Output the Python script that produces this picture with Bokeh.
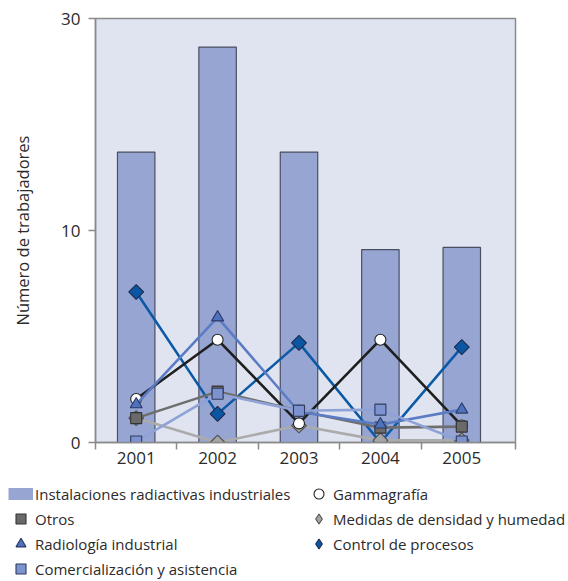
import numpy as np
from bokeh.plotting import figure
from bokeh.layouts import column
from bokeh.models import FixedTicker, Range1d, Legend, LegendItem
from bokeh.embed import file_html
from bokeh.resources import INLINE

# ---- data ----
years = [2001, 2002, 2003, 2004, 2005]
instalaciones = [17.4, 27.3, 17.4, 9.1, 9.2]
control = [7.1, 1.35, 4.7, 0.0, 4.5]
gammagrafia = [2.05, 4.85, 0.9, 4.85, 0.8]
radiologia = [1.8, 5.9, 1.45, 0.85, 1.55]
otros = [1.15, 2.4, 1.5, 0.7, 0.75]
medidas = [1.15, 0.0, 0.8, 0.1, 0.1]
comercializacion = [0.05, 2.3, 1.5, 1.55, 0.05]
y_tick_values = [0, 10, 30]
x_boundaries = [2000.5, 2001.5, 2002.5, 2003.5, 2004.5, 2005.66]

# broken (piecewise-linear) value axis: 0-10 full scale, 10-30 compressed
BREAK = 10
UPPER = 0.5


def to_axis(vals):
    return [v if v <= BREAK else BREAK + (v - BREAK) * UPPER for v in vals]


FONT = "Open Sans"
TXT = "#2b2b2b"
AX = "#8a8a8a"

p = figure(width=568, height=481, output_backend="svg", toolbar_location=None,
           x_range=Range1d(x_boundaries[0], x_boundaries[-1]),
           y_range=Range1d(0, to_axis([y_tick_values[-1]])[0]),
           min_border_left=95, min_border_right=53, min_border_top=18,
           min_border_bottom=39)
p.frame_align = False
p.background_fill_color = "#dfe4f0"
p.border_fill_color = "white"
p.outline_line_color = AX
p.outline_line_width = 1.5
p.xgrid.visible = False
p.ygrid.visible = False

# y axis
yt = to_axis(y_tick_values)
p.yaxis.ticker = FixedTicker(ticks=yt)
p.yaxis.major_label_overrides = {t: str(v) for t, v in zip(yt, y_tick_values)}
p.yaxis.axis_label = "Número de trabajadores"
p.yaxis.axis_label_text_font = FONT
p.yaxis.axis_label_text_font_size = "16.5px"
p.yaxis.axis_label_text_font_style = "normal"
p.yaxis.axis_label_text_color = TXT
p.yaxis.axis_label_standoff = 24
p.yaxis.major_label_text_font = FONT
p.yaxis.major_label_text_font_size = "17px"
p.yaxis.major_label_text_color = TXT
p.yaxis.axis_line_color = AX
p.yaxis.axis_line_width = 1.5
p.yaxis.major_tick_line_color = AX
p.yaxis.major_tick_line_width = 1.5
p.yaxis.major_tick_in = 0
p.yaxis.major_tick_out = 7
p.yaxis.minor_tick_line_color = None
p.yaxis.major_label_standoff = 8

# x axis
p.xaxis.ticker = FixedTicker(ticks=years, minor_ticks=x_boundaries)
p.xaxis.major_label_overrides = {y: str(y) for y in years}
p.xaxis.major_label_text_font = FONT
p.xaxis.major_label_text_font_size = "17px"
p.xaxis.major_label_text_color = TXT
p.xaxis.axis_line_color = AX
p.xaxis.axis_line_width = 1.5
p.xaxis.major_tick_line_color = None
p.xaxis.major_tick_in = 0
p.xaxis.major_tick_out = 7
p.xaxis.minor_tick_line_color = AX
p.xaxis.minor_tick_line_width = 1.5
p.xaxis.minor_tick_in = 0
p.xaxis.minor_tick_out = 7
p.xaxis.major_label_standoff = 2

# bars
BAR = "#97a5d3"
BAR_LINE = "#4a4e62"
p.vbar(x=years, top=to_axis(instalaciones), bottom=0, width=0.46,
       fill_color=BAR, line_color=BAR_LINE, line_width=1.2)

series = [
    ("Control de procesos", control, "#0c5aa6", "square", np.pi / 4, 10.5, "#0b56a3", "#1c2b4a"),
    ("Medidas de densidad y humedad", medidas, "#ababab", "square", np.pi / 4, 10.5, "#a5a5a5", "#505050"),
    ("Gammagrafía", gammagrafia, "#1f1f1f", "circle", 0, 11, "white", "#222222"),
    ("Otros", otros, "#6e6e6e", "square", 0, 11, "#6a6a6a", "#333333"),
    ("Radiología industrial", radiologia, "#5b7cc4", "triangle", 0, 12, "#4f72bd", "#2a3a6a"),
    ("Comercialización y asistencia", comercializacion, "#8ea2d8", "square", 0, 11, "#7c93cf", "#2f3a60"),
]
for name, vals, lc, mk, ang, sz, fc, oc in series:
    yy = to_axis(vals)
    p.line(years, yy, line_color=lc, line_width=2.6)
    p.scatter(years, yy, marker=mk, angle=ang, size=sz,
              fill_color=fc, line_color=oc, line_width=1.1)

# ---- legend panel (separate figure under the chart; its renderers are out of view) ----
lg = figure(width=568, height=100, output_backend="svg", toolbar_location=None,
            x_range=Range1d(-100, -99), y_range=Range1d(-100, -99),
            min_border_left=8, min_border_right=0, min_border_top=0,
            min_border_bottom=0)
lg.frame_align = False
lg.axis.visible = False
lg.xgrid.visible = False
lg.ygrid.visible = False
lg.outline_line_color = None
lg.background_fill_color = "white"

legend_r = {}
legend_r["Instalaciones radiactivas industriales"] = lg.line(
    years, to_axis(instalaciones), line_color=BAR, line_width=12)
for name, vals, lc, mk, ang, sz, fc, oc in series:
    lmk = "diamond" if ang else mk
    legend_r[name] = lg.scatter(years, to_axis(vals), marker=lmk, size=sz,
                                fill_color=fc, line_color=oc, line_width=1.1)

order_labels = ["Instalaciones radiactivas industriales", "Otros", "Radiología industrial",
                "Comercialización y asistencia", "Gammagrafía",
                "Medidas de densidad y humedad", "Control de procesos"]
items = [LegendItem(label=n, renderers=[legend_r[n]]) for n in order_labels]

legend = Legend(items=items, location="top_left", orientation="vertical", nrows=4,
                glyph_width=25, glyph_height=25, spacing=0, label_standoff=2,
                label_width=271, padding=0, margin=0, border_line_color=None,
                background_fill_alpha=0, label_text_font=FONT,
                label_text_font_size="15px", label_text_color=TXT)
lg.add_layout(legend)

layout = column(p, lg, spacing=0)
open("out.html", "w").write(file_html(layout, INLINE))
